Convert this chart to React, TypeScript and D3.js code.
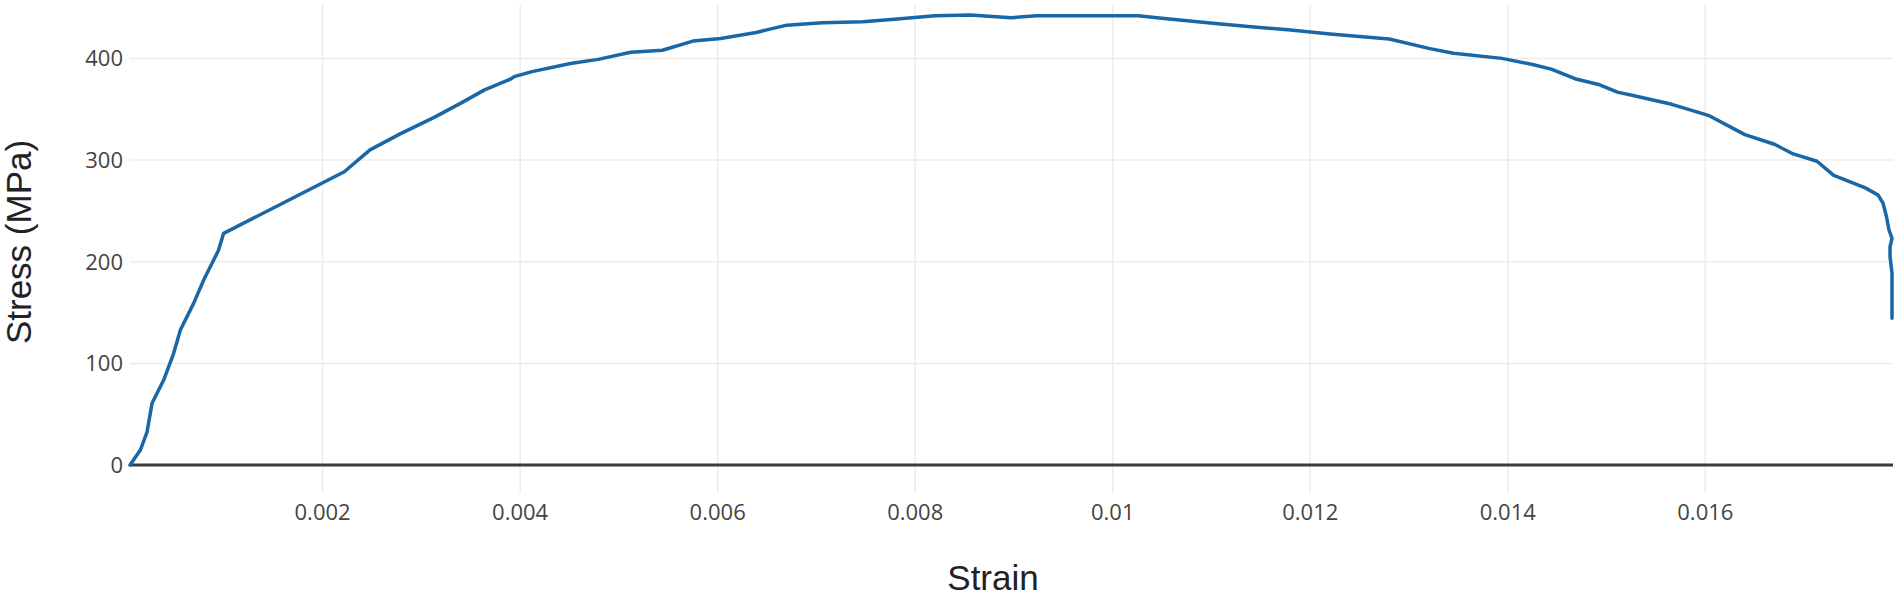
import React from 'react';
import * as d3 from 'd3';

// stress-strain curve
const strain = [
  0.00005, 0.000155, 0.000223, 0.000273, 0.000391, 0.000492, 0.00056, 0.000694, 0.000796, 0.000947,
  0.000998, 0.00222, 0.00248, 0.00279, 0.00313, 0.0034, 0.00364, 0.00389, 0.00394, 0.00412,
  0.00451, 0.00479, 0.00512, 0.00544, 0.00575, 0.00603, 0.00639, 0.0067, 0.00706, 0.00747,
  0.00779, 0.0082, 0.00856, 0.00897, 0.00923, 0.01026, 0.01052, 0.01104, 0.0114, 0.0118,
  0.0122, 0.0128, 0.01321, 0.01345, 0.01394, 0.01425, 0.01444, 0.01468, 0.01493, 0.01511,
  0.01529, 0.01566, 0.01603, 0.0164, 0.0167, 0.01689, 0.01713, 0.0173, 0.01762, 0.01775,
  0.0178, 0.017834, 0.01786, 0.01789, 0.01787, 0.01787, 0.01789, 0.01789,
];
const stress = [
  0, 14.8, 32.7, 60.7, 83.6, 109.9, 132.8, 159, 182, 211.4,
  227.9, 288.5, 310, 326, 342, 356, 369, 379, 382, 387,
  395, 399, 406, 408, 417, 419.6, 425.5, 432.7, 435, 436,
  438.6, 442, 442.6, 440, 442, 442, 439.3, 434.4, 431, 428,
  424, 419, 409.6, 405, 400, 394, 389.4, 380, 374, 366.8,
  363, 354.8, 344, 325, 315.5, 306, 298.8, 285, 272.6, 265.5,
  257.4, 244.2, 231, 223, 214.7, 204.9, 188.5, 144.3,
];

const xTicks = [0.002, 0.004, 0.006, 0.008, 0.01, 0.012, 0.014, 0.016];
const xTickLabels = ['0.002', '0.004', '0.006', '0.008', '0.01', '0.012', '0.014', '0.016'];
const yTicks = [0, 100, 200, 300, 400];
const yTickLabels = ['0', '100', '200', '300', '400'];

const W = 1900;
const H = 596;
const plot = { left: 130, right: 1893, top: 5, bottom: 493 };

export default function App() {
  const x = d3.scaleLinear().domain([0.00005, 0.0179]).range([plot.left, plot.right]);
  const y = d3.scaleLinear().domain([-27.5, 452.5]).range([plot.bottom, plot.top]);

  const pts: [number, number][] = strain.map((s, i) => [s, stress[i]]);
  const line = d3.line<[number, number]>()
    .x(d => x(d[0]))
    .y(d => y(d[1]));

  const tickFont = '"Open Sans", "Noto Sans", sans-serif';
  const titleFont = '"Liberation Sans", Arial, sans-serif';

  return (
    <svg width={W} height={H} style={{ position: 'absolute', left: 0, top: 0, background: '#fff' }}>
      {/* vertical grid */}
      {xTicks.map(t => (
        <line key={'gx' + t} x1={x(t)} x2={x(t)} y1={plot.top} y2={plot.bottom} stroke="#ececec" strokeWidth={1.5} />
      ))}
      {/* horizontal grid */}
      {yTicks.filter(t => t !== 0).map(t => (
        <line key={'gy' + t} x1={plot.left} x2={plot.right} y1={y(t)} y2={y(t)} stroke="#ececec" strokeWidth={1.5} />
      ))}
      {/* zero line */}
      <line x1={plot.left} x2={plot.right} y1={y(0)} y2={y(0)} stroke="#3a3a3a" strokeWidth={3} />

      <path d={line(pts) || ''} fill="none" stroke="#1967a6" strokeWidth={3.5} strokeLinejoin="round" strokeLinecap="round" />

      {xTicks.map((t, i) => (
        <text key={'tx' + t} x={x(t)} y={520} textAnchor="middle" fontFamily={tickFont} fontSize={22} fill="#444">
          {xTickLabels[i]}
        </text>
      ))}
      {yTicks.map((t, i) => (
        <text key={'ty' + t} x={123} y={y(t)} dy="0.36em" textAnchor="end" fontFamily={tickFont} fontSize={22} fill="#444">
          {yTickLabels[i]}
        </text>
      ))}

      <text x={993} y={590} textAnchor="middle" fontFamily={titleFont} fontSize={35} fill="#222">Strain</text>
      <text transform={`translate(31,242) rotate(-90)`} textAnchor="middle" fontFamily={titleFont} fontSize={35} fill="#222">
        Stress (MPa)
      </text>
    </svg>
  );
}
